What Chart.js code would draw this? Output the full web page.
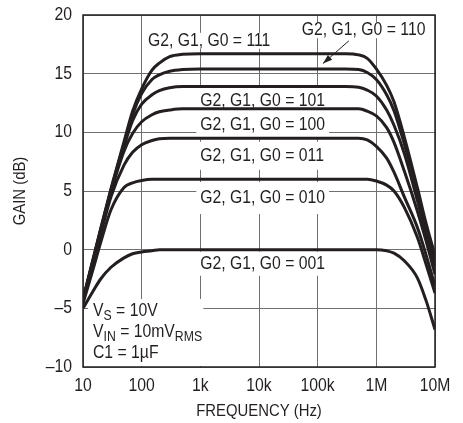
<!DOCTYPE html>
<html>
<head>
<meta charset="utf-8">
<script src="https://cdn.jsdelivr.net/npm/chart.js@4"></script>
<style>
  body { margin: 0; background: #fff; }
</style>
</head>
<body>
<canvas id="gain" width="463" height="423"></canvas>
<script>
const FONT = "'Liberation Sans', Arial, sans-serif";
const SQUEEZE = 0.875;   // condensed look, like the datasheet face
const INK = '#231f20';

// frequency points (Hz)
const freqs = [10, 15, 20, 30, 50, 70, 100, 150, 200, 300, 500, 1e3, 1e4, 1e5, 3e5, 5e5, 7e5, 1e6, 1.5e6, 2e6, 3e6, 5e6, 7e6, 1e7];

// gain (dB) per G2,G1,G0 setting
const gain111 = [-4.2, -0.7, 1.8, 5.2, 9.2, 11.8, 13.7, 15.3, 15.9, 16.45, 16.65, 16.7, 16.7, 16.7, 16.7, 16.6, 16.3, 15.4, 14.0, 12.6, 9.6, 5.3, 2.3, -0.5];
const gain110 = [-4.3, -0.8, 1.7, 5.1, 9.0, 11.5, 13.3, 14.5, 14.9, 15.2, 15.35, 15.4, 15.4, 15.4, 15.4, 15.35, 15.1, 14.5, 13.2, 11.85, 9.0, 5.0, 1.9, -0.9];
const gain101 = [-4.3, -0.8, 1.6, 5.0, 8.8, 11.0, 12.4, 13.2, 13.55, 13.8, 13.9, 13.9, 13.9, 13.9, 13.9, 13.85, 13.6, 13.1, 11.9, 10.6, 8.2, 4.2, 1.4, -1.5];
const gain100 = [-4.3, -0.9, 1.5, 4.9, 8.4, 9.9, 10.9, 11.5, 11.75, 11.9, 12.0, 12.0, 12.0, 12.0, 12.0, 12.0, 11.8, 11.4, 10.4, 9.15, 6.7, 3.3, 0.8, -2.1];
const gain011 = [-4.4, -1.0, 1.3, 4.5, 7.2, 8.3, 8.95, 9.3, 9.45, 9.5, 9.5, 9.5, 9.5, 9.5, 9.5, 9.5, 9.35, 8.8, 7.8, 6.6, 4.5, 1.9, -0.4, -3.1];
const gain010 = [-4.6, -1.6, 0.6, 3.4, 5.3, 5.7, 5.9, 6.0, 6.0, 6.0, 6.0, 6.0, 6.0, 6.0, 6.0, 6.0, 6.0, 5.85, 5.5, 5.0, 3.6, 1.05, -1.2, -3.7];
const gain001 = [-5.0, -3.5, -2.5, -1.5, -0.7, -0.35, -0.2, -0.1, 0, 0, 0, 0, 0, 0, 0, 0, 0, 0, -0.1, -0.3, -0.95, -2.4, -4.3, -6.8];

const xTickValues = [10, 100, 1e3, 1e4, 1e5, 1e6, 1e7];
const xTickLabels = ['10', '100', '1k', '10k', '100k', '1M', '10M'];
const yTickValues = [-10, -5, 0, 5, 10, 15, 20];
const yTickLabels = ['\u201310', '\u20135', '0', '5', '10', '15', '20'];

const series = [gain111, gain110, gain101, gain100, gain011, gain010, gain001];

// curve labels, placed in data units (left edge freq, centre gain, half box height)
const notes = [
  {text: 'G2, G1, G0 = 111', f: 128, db: 17.8, h: 8},
  {text: 'G2, G1, G0 = 110', f: 5.37e4, db: 18.7, h: 8},
  {text: 'G2, G1, G0 = 101', f: 1000, db: 12.7, h: 14},
  {text: 'G2, G1, G0 = 100', f: 1000, db: 10.6, h: 14},
  {text: 'G2, G1, G0 = 011', f: 1000, db: 8.0, h: 14},
  {text: 'G2, G1, G0 = 010', f: 1000, db: 4.4, h: 16},
  {text: 'G2, G1, G0 = 001', f: 1000, db: -1.2, h: 12}
];
const arrow = {from: [3.4e5, 17.8], to: [1.23e5, 15.86]};

// test conditions, bottom left
const conditions = [
  [['V', 0], ['S', 1], [' = 10V', 0]],
  [['V', 0], ['IN', 1], [' = 10mV', 0], ['RMS', 1]],
  [['C1 = 1\u00b5F', 0]]
];

function txt(ctx, s, x, y, size, align) {
  ctx.font = size + 'px ' + FONT;
  ctx.textAlign = align || 'left';
  const w = ctx.measureText(s).width * SQUEEZE;
  ctx.fillText(s, x, y, w);
  return w;
}

const labelPlugin = {
  id: 'labels',
  beforeDatasetsDraw(chart) {
    const ctx = chart.ctx;
    const xs = chart.scales.x, ys = chart.scales.y;
    ctx.save();
    ctx.textBaseline = 'middle';
    notes.forEach(n => {
      const x = xs.getPixelForValue(n.f);
      const y = ys.getPixelForValue(n.db);
      ctx.font = '18px ' + FONT;
      const w = ctx.measureText(n.text).width * SQUEEZE;
      ctx.fillStyle = '#fff';
      ctx.fillRect(x - 4, y - n.h, w + 8, n.h * 2);
      ctx.fillStyle = INK;
      txt(ctx, n.text, x, y, 18);
    });

    // conditions box
    const bx = chart.chartArea.left + 5;
    const by = ys.getPixelForValue(-4.2);
    ctx.fillStyle = '#fff';
    ctx.fillRect(bx, by, xs.getPixelForValue(1000) + 3 - bx, chart.chartArea.bottom - by - 1);
    ctx.fillStyle = INK;
    conditions.forEach((line, i) => {
      let x = bx + 5;
      const y = by + 12 + i * 21;
      line.forEach(([t, sub]) => {
        x += txt(ctx, t, x, y + (sub ? 5 : 0), sub ? 14 : 18);
      });
    });
    ctx.restore();
  },
  afterDatasetsDraw(chart) {
    const ctx = chart.ctx;
    const xs = chart.scales.x, ys = chart.scales.y;
    const a = chart.chartArea;
    ctx.save();
    ctx.strokeStyle = INK;
    ctx.lineWidth = 1.5;
    ctx.strokeRect(a.left, a.top, a.right - a.left, a.bottom - a.top);

    const x0 = xs.getPixelForValue(arrow.from[0]), y0 = ys.getPixelForValue(arrow.from[1]);
    const x1 = xs.getPixelForValue(arrow.to[0]), y1 = ys.getPixelForValue(arrow.to[1]);
    ctx.lineWidth = 1;
    ctx.beginPath();
    ctx.moveTo(x0, y0);
    ctx.lineTo(x1, y1);
    ctx.stroke();
    const ang = Math.atan2(y1 - y0, x1 - x0);
    ctx.fillStyle = INK;
    ctx.beginPath();
    ctx.moveTo(x1, y1);
    ctx.lineTo(x1 - 10 * Math.cos(ang - 0.33), y1 - 10 * Math.sin(ang - 0.33));
    ctx.lineTo(x1 - 10 * Math.cos(ang + 0.33), y1 - 10 * Math.sin(ang + 0.33));
    ctx.closePath();
    ctx.fill();
    ctx.restore();
  },
  afterDraw(chart) {
    // tick labels and axis titles, drawn condensed
    const ctx = chart.ctx;
    const xs = chart.scales.x, ys = chart.scales.y;
    const a = chart.chartArea;
    ctx.save();
    ctx.fillStyle = INK;
    ctx.textBaseline = 'middle';
    xTickValues.forEach((v, i) => txt(ctx, xTickLabels[i], xs.getPixelForValue(v), a.bottom + 19, 18, 'center'));
    yTickValues.forEach((v, i) => txt(ctx, yTickLabels[i], a.left - 11, ys.getPixelForValue(v), 18, 'right'));
    txt(ctx, 'FREQUENCY (Hz)', (a.left + a.right) / 2, a.bottom + 44, 17, 'center');
    ctx.translate(20, (a.top + a.bottom) / 2);
    ctx.rotate(-Math.PI / 2);
    txt(ctx, 'GAIN (dB)', 0, 0, 17, 'center');
    ctx.restore();
  }
};

new Chart(document.getElementById('gain'), {
  type: 'line',
  data: {
    datasets: series.map(g => ({
      data: freqs.map((f, i) => ({x: f, y: g[i]})),
      borderColor: INK,
      borderWidth: 3,
      pointRadius: 0,
      fill: false,
      cubicInterpolationMode: 'monotone'
    }))
  },
  options: {
    responsive: false,
    animation: false,
    devicePixelRatio: 1,
    layout: {padding: {left: 0, top: 15, right: 28, bottom: 0}},
    plugins: {legend: {display: false}, tooltip: {enabled: false}},
    scales: {
      x: {
        type: 'logarithmic',
        min: 10,
        max: 1e7,
        afterBuildTicks: s => { s.ticks = xTickValues.map(v => ({value: v})); },
        afterFit: s => { s.height = 56; },
        grid: {color: '#707070', lineWidth: 1, drawTicks: false},
        border: {display: false},
        ticks: {display: false}
      },
      y: {
        min: -10,
        max: 20,
        afterBuildTicks: s => { s.ticks = yTickValues.map(v => ({value: v})); },
        afterFit: s => { s.width = 83; },
        grid: {color: '#707070', lineWidth: 1, drawTicks: false},
        border: {display: false},
        ticks: {display: false}
      }
    }
  },
  plugins: [labelPlugin]
});
</script>
</body>
</html>
